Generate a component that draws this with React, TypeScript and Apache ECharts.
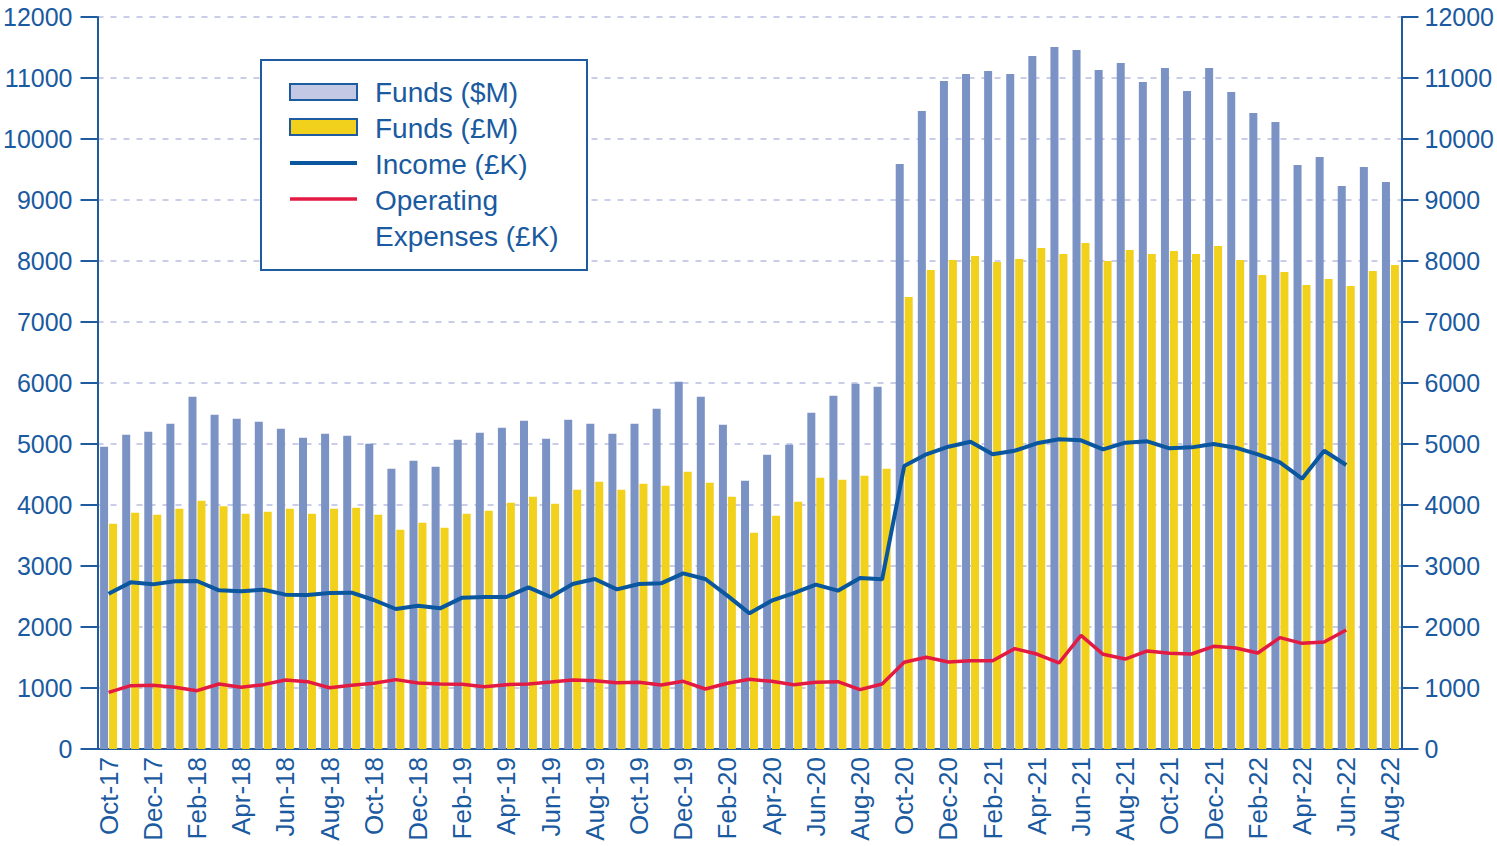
import React, { useEffect, useRef } from 'react';
import * as echarts from 'echarts';

const categories = [
  'Oct-17', 'Nov-17', 'Dec-17', 'Jan-18', 'Feb-18', 'Mar-18', 'Apr-18', 'May-18', 'Jun-18', 'Jul-18',
  'Aug-18', 'Sep-18', 'Oct-18', 'Nov-18', 'Dec-18', 'Jan-19', 'Feb-19', 'Mar-19', 'Apr-19', 'May-19',
  'Jun-19', 'Jul-19', 'Aug-19', 'Sep-19', 'Oct-19', 'Nov-19', 'Dec-19', 'Jan-20', 'Feb-20', 'Mar-20',
  'Apr-20', 'May-20', 'Jun-20', 'Jul-20', 'Aug-20', 'Sep-20', 'Oct-20', 'Nov-20', 'Dec-20', 'Jan-21',
  'Feb-21', 'Mar-21', 'Apr-21', 'May-21', 'Jun-21', 'Jul-21', 'Aug-21', 'Sep-21', 'Oct-21', 'Nov-21',
  'Dec-21', 'Jan-22', 'Feb-22', 'Mar-22', 'Apr-22', 'May-22', 'Jun-22', 'Jul-22', 'Aug-22',
];

const fundsUSD = [
  4956, 5153, 5202, 5333, 5776, 5481, 5415, 5366, 5251, 5104,
  5169, 5137, 5005, 4596, 4727, 4628, 5071, 5186, 5268, 5383,
  5087, 5399, 5333, 5169, 5333, 5579, 6022, 5776, 5317, 4399,
  4825, 4989, 5514, 5792, 5989, 5940, 9590, 10459, 10951, 11066,
  11115, 11066, 11361, 11508, 11459, 11131, 11246, 10934, 11164, 10787,
  11164, 10770, 10426, 10279, 9574, 9705, 9230, 9541, 9295,
];

const fundsGBP = [
  3694, 3874, 3842, 3940, 4071, 3978, 3858, 3891, 3940, 3858,
  3940, 3956, 3842, 3596, 3710, 3628, 3858, 3907, 4038, 4137,
  4022, 4251, 4383, 4251, 4350, 4317, 4546, 4366, 4137, 3546,
  3825, 4055, 4448, 4415, 4481, 4596, 7410, 7852, 8016, 8082,
  7984, 8033, 8213, 8115, 8295, 8000, 8180, 8115, 8164, 8115,
  8246, 8016, 7770, 7820, 7607, 7705, 7590, 7836, 7934,
];

const incomeGBPk = [
  2546, 2732, 2699, 2749, 2754, 2601, 2585, 2612, 2530, 2525,
  2557, 2563, 2443, 2295, 2350, 2306, 2481, 2492, 2492, 2650,
  2492, 2705, 2787, 2617, 2705, 2716, 2880, 2787, 2514, 2224,
  2432, 2557, 2694, 2596, 2803, 2781, 4639, 4831, 4956, 5038,
  4831, 4890, 5011, 5077, 5060, 4913, 5022, 5044, 4929, 4945,
  5000, 4940, 4831, 4700, 4432, 4890, 4656,
];

const expensesGBPk = [
  929, 1038, 1044, 1011, 956, 1066, 1011, 1055, 1131, 1104,
  1005, 1044, 1077, 1137, 1082, 1066, 1060, 1022, 1055, 1066,
  1098, 1131, 1120, 1087, 1093, 1049, 1109, 984, 1077, 1142,
  1109, 1055, 1093, 1104, 973, 1066, 1421, 1503, 1426, 1448,
  1448, 1645, 1557, 1410, 1863, 1552, 1475, 1607, 1568, 1557,
  1683, 1656, 1574, 1825, 1732, 1754, 1951,
];

const Y_MIN = 0;
const Y_MAX = 12000;
const Y_INTERVAL = 1000;

const legendNames = ['Funds ($M)', 'Funds (£M)', 'Income (£K)', 'Operating', 'Expenses (£K)'];

const TEXT_BLUE = '#1a5aa0';
const AXIS_BLUE = '#1f5b9f';
const BAR_BLUE = '#7b92c4';
const BAR_YELLOW = '#f2d11d';
const LINE_BLUE = '#0a57a0';
const LINE_RED = '#e31b43';
const GRID_COLOR = '#c9cde8';
const FONT = '"Liberation Sans", Arial, sans-serif';

export default function App() {
  const ref = useRef<HTMLDivElement>(null);

  useEffect(() => {
    document.body.style.margin = '0';
    const chart = echarts.init(ref.current as HTMLDivElement, null, { renderer: 'svg' });

    const yAxisBase = (position: 'left' | 'right', margin: number, showSplit: boolean) => ({
      type: 'value',
      position,
      min: Y_MIN,
      max: Y_MAX,
      interval: Y_INTERVAL,
      axisLine: { show: true, lineStyle: { color: AXIS_BLUE, width: 2 } },
      axisTick: { show: true, inside: false, length: 17, lineStyle: { color: AXIS_BLUE, width: 2 } },
      axisLabel: {
        color: TEXT_BLUE,
        fontSize: 25,
        fontFamily: FONT,
        margin,
        formatter: (v: number) => String(v),
      },
      splitLine: {
        show: showSplit,
        lineStyle: { color: GRID_COLOR, width: 2, type: [6, 7] },
      },
    });

    const Z = 100;

    chart.setOption({
      animation: false,
      backgroundColor: '#ffffff',
      textStyle: { fontFamily: FONT },
      grid: { left: 96, right: 95, top: 17, bottom: 97, containLabel: false },
      xAxis: {
        type: 'category',
        data: categories,
        boundaryGap: true,
        axisLine: { show: true, lineStyle: { color: AXIS_BLUE, width: 2 } },
        axisTick: { show: false },
        axisLabel: {
          interval: 1,
          rotate: 90,
          color: TEXT_BLUE,
          fontSize: 26,
          fontFamily: FONT,
          margin: 8,
        },
      },
      yAxis: [yAxisBase('left', 25, true), yAxisBase('right', 23, false)],
      series: [
        {
          name: legendNames[0],
          type: 'bar',
          data: fundsUSD,
          barWidth: 8,
          barGap: '12%',
          itemStyle: { color: BAR_BLUE },
        },
        {
          name: legendNames[1],
          type: 'bar',
          data: fundsGBP,
          barWidth: 8,
          barGap: '12%',
          itemStyle: { color: BAR_YELLOW },
        },
        {
          name: legendNames[2],
          type: 'line',
          data: incomeGBPk,
          symbol: 'none',
          lineStyle: { color: LINE_BLUE, width: 4 },
          z: 5,
        },
        {
          name: legendNames[3] + ' ' + legendNames[4],
          type: 'line',
          data: expensesGBPk,
          symbol: 'none',
          lineStyle: { color: LINE_RED, width: 3.5 },
          z: 5,
        },
      ],
      graphic: [
        {
          type: 'rect',
          z: Z,
          shape: { x: 261, y: 60, width: 326, height: 210 },
          style: { fill: '#ffffff', stroke: AXIS_BLUE, lineWidth: 2 },
        },
        {
          type: 'rect',
          z: Z + 1,
          shape: { x: 290, y: 84, width: 67, height: 16 },
          style: { fill: '#c3c9e5', stroke: AXIS_BLUE, lineWidth: 2 },
        },
        {
          type: 'rect',
          z: Z + 1,
          shape: { x: 290, y: 119, width: 67, height: 16 },
          style: { fill: BAR_YELLOW, stroke: AXIS_BLUE, lineWidth: 2 },
        },
        {
          type: 'line',
          z: Z + 1,
          shape: { x1: 290, y1: 163, x2: 357, y2: 163 },
          style: { stroke: LINE_BLUE, lineWidth: 4 },
        },
        {
          type: 'line',
          z: Z + 1,
          shape: { x1: 290, y1: 199, x2: 357, y2: 199 },
          style: { stroke: LINE_RED, lineWidth: 3.5 },
        },
        ...legendNames.map((name, i) => ({
          type: 'text',
          z: Z + 1,
          style: {
            x: 375,
            y: 92 + i * 36,
            text: name,
            fill: TEXT_BLUE,
            fontSize: 28,
            fontFamily: FONT,
            verticalAlign: 'middle',
            align: 'left',
          },
        })),
      ],
    });

    return () => chart.dispose();
  }, []);

  return <div ref={ref} style={{ width: 1497, height: 846 }} />;
}
